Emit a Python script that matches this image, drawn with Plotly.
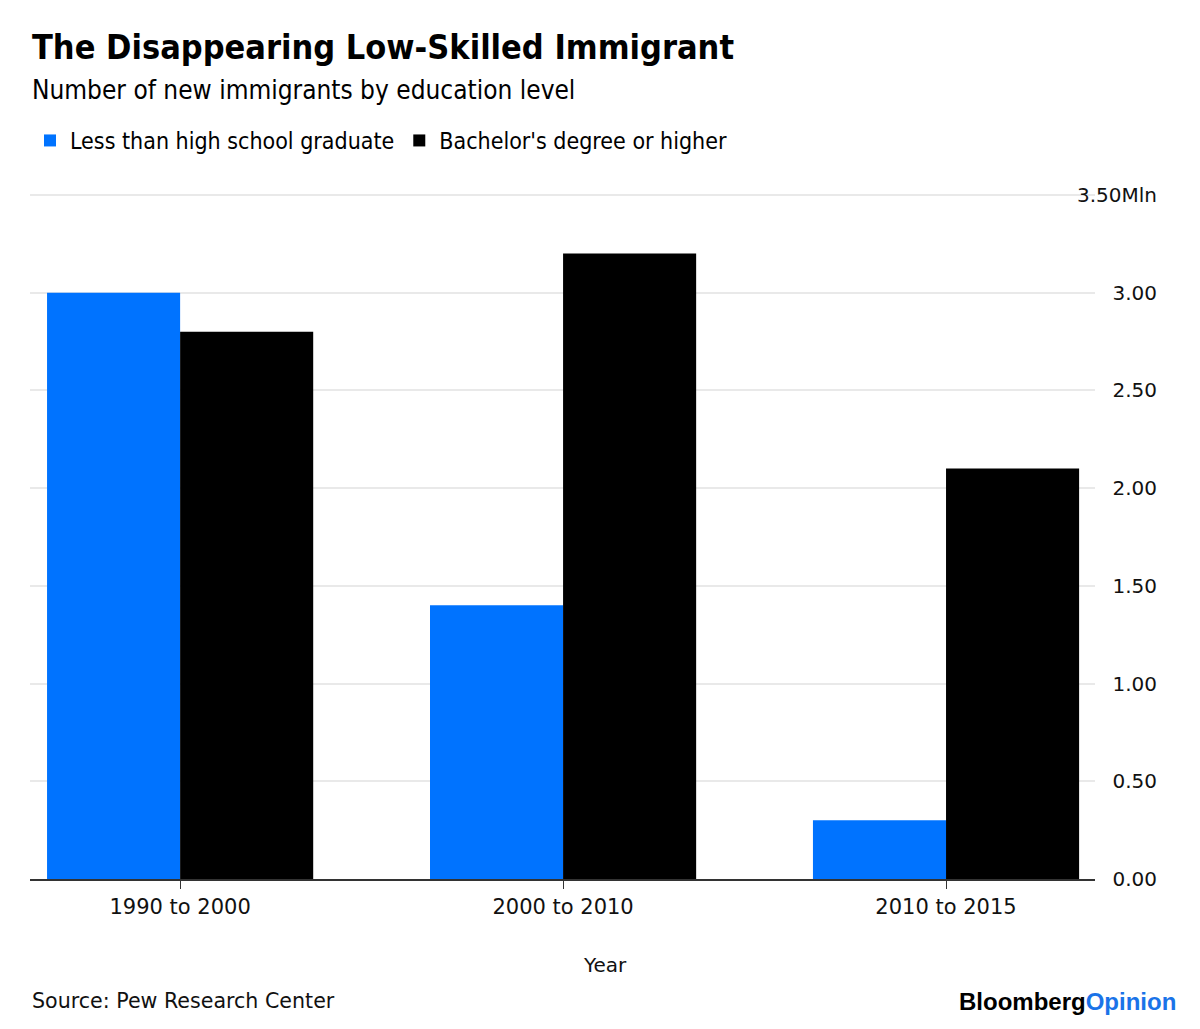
import plotly.graph_objects as go

categories = ["1990 to 2000", "2000 to 2010", "2010 to 2015"]
less_than_hs = [3.0, 1.4, 0.3]
bachelors = [2.8, 3.2, 2.1]
series_names = ["Less than high school graduate", "Bachelor's degree or higher"]
tick_vals = [0, 0.5, 1.0, 1.5, 2.0, 2.5, 3.0, 3.5]
tick_text = ["0.00", "0.50", "1.00", "1.50", "2.00", "2.50", "3.00", "3.50Mln"]

BLUE = "#0073ff"
NARROW = "DejaVu Sans Condensed, Roboto Condensed, sans-serif"
SANS = "DejaVu Sans, sans-serif"

fig = go.Figure()
fig.add_trace(go.Bar(x=categories, y=less_than_hs, name=series_names[0],
                     marker=dict(color=BLUE, line=dict(width=0))))
fig.add_trace(go.Bar(x=categories, y=bachelors, name=series_names[1],
                     marker=dict(color="#000000", line=dict(width=0))))

W, H = 1200, 1029
ml, mr, mt, mb = 30, 40, 191, 150
pw = W - ml - mr
ph = H - mt - mb
xdom_end = (1095 - ml) / pw

def py(px):
    return (H - mb - px) / ph

fig.update_layout(
    width=W, height=H,
    margin=dict(l=ml, r=mr, t=mt, b=mb),
    paper_bgcolor="white", plot_bgcolor="white",
    barmode="group", bargap=0.305, bargroupgap=0,
    font=dict(family=SANS, size=20, color="#000"),
    showlegend=True,
    legend=dict(orientation="h", x=0, xanchor="left", y=py(119), yanchor="top",
                font=dict(family=NARROW, size=23, color="#000"),
                itemsizing="constant", traceorder="normal", itemwidth=30,
                bgcolor="rgba(0,0,0,0)"),
    xaxis=dict(type="category", domain=[0, xdom_end], range=[-0.392, 2.389],
               showline=True, linecolor="#333", linewidth=2,
               ticks="outside", ticklen=8, tickcolor="#333", tickwidth=1,
               tickfont=dict(family=SANS, size=21, color="#111"),
               showgrid=False, zeroline=False, fixedrange=True),
    yaxis=dict(range=[0, 3.52], side="right", anchor="free", position=1,
               tickvals=tick_vals, ticktext=tick_text,
               ticklabelposition="inside", ticklabeloverflow="allow", ticks="",
               tickfont=dict(family=SANS, size=20, color="#111"),
               showgrid=True, gridcolor="#e9e9e9", gridwidth=2,
               zeroline=False, showline=False, fixedrange=True),
    annotations=[
        dict(text="<b>The Disappearing Low-Skilled Immigrant</b>", xref="paper", yref="paper",
             x=0, y=py(47), xanchor="left", yanchor="middle", showarrow=False,
             font=dict(family=NARROW, size=34, color="#000")),
        dict(text="Number of new immigrants by education level", xref="paper", yref="paper",
             x=0, y=py(90), xanchor="left", yanchor="middle", showarrow=False,
             font=dict(family=NARROW, size=26, color="#000")),
        dict(text="Year", xref="paper", yref="paper",
             x=(605 - ml) / pw, y=py(965), xanchor="center", yanchor="middle", showarrow=False,
             font=dict(family=SANS, size=20, color="#111")),
        dict(text="Source: Pew Research Center", xref="paper", yref="paper",
             x=0, y=py(1001), xanchor="left", yanchor="middle", showarrow=False,
             font=dict(family=SANS, size=20.6, color="#111")),
        dict(text="<b>Bloomberg</b><b><span style='color:#1a73e8'>Opinion</span></b>",
             xref="paper", yref="paper",
             x=(1178 - ml) / pw, y=py(1001), xanchor="right", yanchor="middle", showarrow=False,
             font=dict(family="Liberation Sans, Arial, sans-serif", size=24, color="#000")),
    ],
)

fig.write_html("out.html")
